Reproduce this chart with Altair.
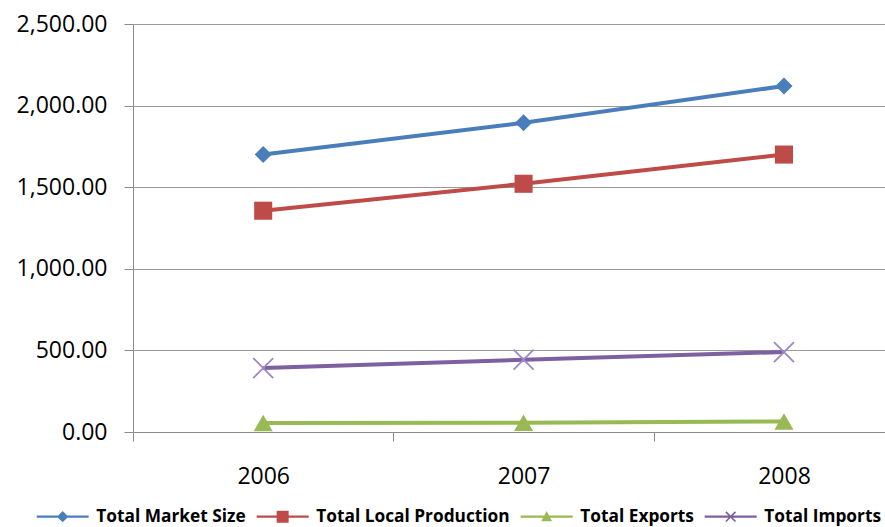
import altair as alt
import pandas as pd

# ---- data -------------------------------------------------------------
years = [2006, 2007, 2008]
series_names = ["Total Market Size", "Total Local Production", "Total Exports", "Total Imports"]
market_size = [1700, 1895, 2120]
local_production = [1356, 1521, 1700]
exports = [55, 57, 65]
imports = [392, 443, 490]
y_ticks = [0, 500, 1000, 1500, 2000, 2500]
# category boundaries carry the tick marks; labels sit half a band to the right
x_boundaries = [2005.5, 2006.5, 2007.5]

colors = ["#4A7EBB", "#BE4B48", "#98B954", "#7D60A0"]
marker_colors = ["#4A7EBB", "#BE4B48", "#98B954", "#9C88C2"]

rows = []
for name, vals in zip(series_names, [market_size, local_production, exports, imports]):
    for yr, v in zip(years, vals):
        rows.append({"year": yr, "series": name, "value": v})
df = pd.DataFrame(rows)


# ---- symbol paths -------------------------------------------------------
def poly(points):
    """Closed SVG sub-path, wound clockwise so overlapping pieces union."""
    area = sum(points[i][0] * points[(i + 1) % len(points)][1]
               - points[(i + 1) % len(points)][0] * points[i][1]
               for i in range(len(points)))
    if area < 0:
        points = points[::-1]
    head = "M%.3f,%.3f" % points[0]
    rest = "".join("L%.3f,%.3f" % p for p in points[1:])
    return head + rest + "Z"


def cross_x(a, t, cx=0.0):
    s = t / 2 ** 0.5
    arm1 = [(cx - a + s, -a - s), (cx + a + s, a - s), (cx + a - s, a + s), (cx - a - s, -a + s)]
    arm2 = [(cx - a + s, a + s), (cx + a + s, -a + s), (cx + a - s, -a - s), (cx - a - s, a - s)]
    return poly(arm1) + poly(arm2)


# marker shapes used on the plotted points
point_shapes = ["diamond", "square", "triangle-up", cross_x(1.0, 0.09)]
point_sizes = [290, 400, 340, 361]

# legend glyphs: a short line segment with the marker in its middle
x0, x1, h = -1.0, 7.67, 0.2
c = (x0 + x1) / 2
seg = poly([(x0, -h), (x1, -h), (x1, h), (x0, h)])
legend_shapes = [
    seg + poly([(c - 0.95, 0), (c, -0.95), (c + 0.95, 0), (c, 0.95)]),
    seg + poly([(c - 1, -1), (c + 1, -1), (c + 1, 1), (c - 1, 1)]),
    seg + poly([(c, -0.95), (c + 0.9, 0.75), (c - 0.9, 0.75)]),
    seg + cross_x(0.8, 0.14, c),
]

FONT = "Open Sans"
PLOT_W = 752
X_MIN, X_MAX = 2005.5, 2008.388
half_band_px = PLOT_W / (X_MAX - X_MIN) / 2

x_scale = alt.Scale(domain=[X_MIN, X_MAX], nice=False, zero=False)
y_scale = alt.Scale(domain=[0, 2500], nice=False)
color_scale = alt.Scale(domain=series_names, range=colors)

x_enc = alt.X(
    "year:Q",
    scale=x_scale,
    title=None,
    axis=alt.Axis(
        values=x_boundaries,
        labelExpr="format(datum.value + 0.5, 'd')",
        labelOffset=half_band_px,
        tickSize=9,
        labelPadding=24,
        labelFlush=False,
        labelOverlap=False,
        labelBound=False,
        grid=False,
    ),
)
y_enc = alt.Y(
    "value:Q",
    scale=y_scale,
    title=None,
    axis=alt.Axis(
        values=y_ticks,
        format=",.2f",
        tickSize=9,
        labelPadding=17,
        labelFlush=False,
        grid=True,
    ),
)

base = alt.Chart(df)

lines = base.mark_line(strokeWidth=4).encode(
    x=x_enc,
    y=y_enc,
    color=alt.Color("series:N", scale=color_scale, legend=None),
    detail="series:N",
)

points = base.mark_point(filled=True, opacity=1).encode(
    x=x_enc,
    y=y_enc,
    color=alt.Color("series:N", scale=alt.Scale(domain=series_names, range=marker_colors), legend=None),
    shape=alt.Shape("series:N", scale=alt.Scale(domain=series_names, range=point_shapes), legend=None),
    size=alt.Size("series:N", scale=alt.Scale(domain=series_names, range=point_sizes), legend=None),
)

legend_props = dict(
    title=None,
    orient="none",
    legendX=-99,
    legendY=484,
    direction="horizontal",
    labelFont=FONT,
    labelFontSize=17.3,
    labelFontWeight="bold",
    labelColor="#000000",
    labelLimit=0,
    labelOffset=45,
    symbolSize=144,
    symbolOpacity=1,
    symbolStrokeWidth=0,
    columnPadding=8,
)

legend_layer = base.mark_point(filled=True, opacity=0, size=144).encode(
    x=x_enc,
    y=y_enc,
    color=alt.Color("series:N", scale=color_scale, legend=alt.Legend(**legend_props)),
    shape=alt.Shape("series:N", scale=alt.Scale(domain=series_names, range=legend_shapes),
                    legend=alt.Legend(**legend_props)),
)

chart = (
    alt.layer(lines, points, legend_layer)
    .resolve_scale(color="independent", shape="independent", size="independent")
    .properties(
        width=PLOT_W,
        height=408,
        autosize="none",
        padding={"left": 133, "top": 24, "right": 0, "bottom": 95},
        background="#ffffff",
    )
    .configure_view(stroke=None)
    .configure_axis(
        labelFont=FONT,
        labelFontSize=23,
        labelColor="#000000",
        domainColor="#8c8c8c",
        tickColor="#8c8c8c",
        gridColor="#9a9a9a",
        domainWidth=1,
        tickWidth=1,
        gridWidth=1,
    )
)

chart.save("out.html", embed_options={"renderer": "svg", "actions": False})
